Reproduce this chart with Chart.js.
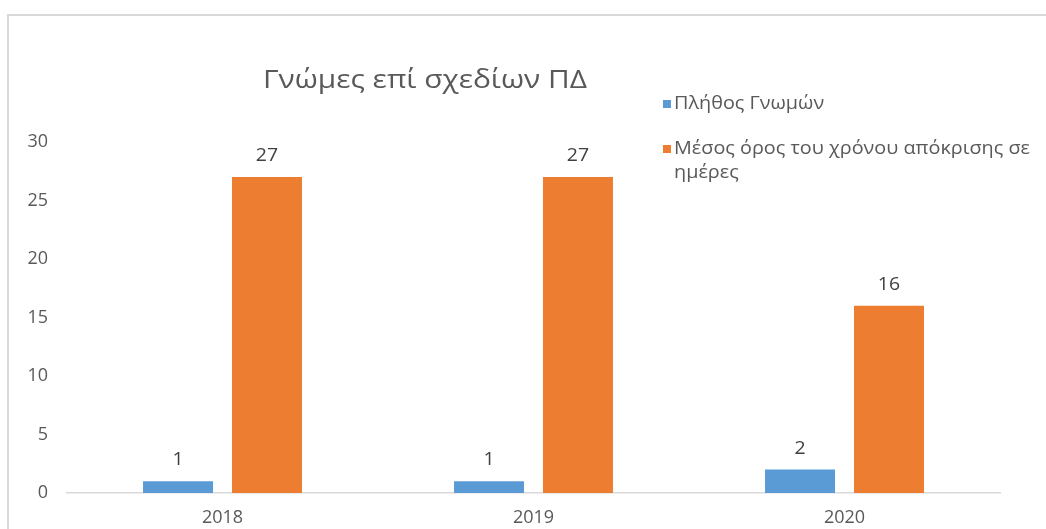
<!DOCTYPE html>
<html>
<head>
<meta charset="utf-8">
<script src="https://cdn.jsdelivr.net/npm/chart.js@4"></script>
<style>
html,body{margin:0;padding:0;background:#fff;}
#wrap{width:1046px;height:529px;position:relative;}
</style>
</head>
<body>
<div id="wrap"><canvas id="c" width="1046" height="529"></canvas></div>
<script>
const categories = ['2018', '2019', '2020'];
const opinionsCount = [1, 1, 2];
const avgResponseDays = [27, 27, 16];
const seriesNames = ['Πλήθος Γνωμών', 'Μέσος όρος του χρόνου απόκρισης σε ημέρες'];
const legendLines = [['Πλήθος Γνωμών'], ['Μέσος όρος του χρόνου απόκρισης σε', 'ημέρες']];
const chartTitle = 'Γνώμες επί σχεδίων ΠΔ';
const yTicks = [0, 5, 10, 15, 20, 25, 30];

const FONT = '"Open Sans", "Noto Sans", sans-serif';
const TEXT = '#595959';

// draw text horizontally stretched by sx, anchored at x (left or center)
function drawStretched(ctx, text, x, y, sx, align) {
  ctx.save();
  ctx.translate(x, y);
  ctx.scale(sx, 1);
  ctx.textAlign = align;
  ctx.fillText(text, 0, 0);
  ctx.restore();
}

const decor = {
  id: 'decor',
  beforeDraw(chart) {
    const ctx = chart.ctx;
    ctx.save();
    ctx.strokeStyle = '#d9d9d9';
    ctx.lineWidth = 2;
    ctx.beginPath();
    ctx.moveTo(8, 540);
    ctx.lineTo(8, 15);
    ctx.lineTo(1060, 15);
    ctx.stroke();
    ctx.restore();
  },
  afterDatasetsDraw(chart) {
    const ctx = chart.ctx;
    ctx.save();
    // data labels
    ctx.font = '18px ' + FONT;
    ctx.fillStyle = '#404040';
    ctx.textBaseline = 'middle';
    chart.data.datasets.forEach((ds, di) => {
      const meta = chart.getDatasetMeta(di);
      meta.data.forEach((bar, i) => {
        drawStretched(ctx, String(ds.data[i]), bar.x, bar.y - 21, 1.08, 'center');
      });
    });
    // title
    ctx.font = '26px ' + FONT;
    ctx.fillStyle = TEXT;
    ctx.textBaseline = 'alphabetic';
    const tw = ctx.measureText(chartTitle).width;
    drawStretched(ctx, chartTitle, 263, 88, 324 / tw, 'left');
    // legend
    ctx.font = '17.5px ' + FONT;
    ctx.textBaseline = 'middle';
    const lw = ctx.measureText(legendLines[1][0]).width;
    const lsx = 356 / lw;
    const ys = [104, 149];
    chart.data.datasets.forEach((ds, di) => {
      ctx.fillStyle = ds.backgroundColor;
      ctx.fillRect(663, ys[di] - 4, 8, 8);
      ctx.fillStyle = TEXT;
      legendLines[di].forEach((ln, li) => {
        drawStretched(ctx, ln, 674, ys[di] + li * 24, lsx, 'left');
      });
    });
    ctx.restore();
  }
};

new Chart(document.getElementById('c'), {
  type: 'bar',
  data: {
    labels: categories,
    datasets: [
      { label: seriesNames[0], data: opinionsCount, backgroundColor: '#5b9bd5',
        categoryPercentage: 0.572, barPercentage: 0.787 },
      { label: seriesNames[1], data: avgResponseDays, backgroundColor: '#ed7d31',
        categoryPercentage: 0.572, barPercentage: 0.787 }
    ]
  },
  options: {
    responsive: false,
    animation: false,
    devicePixelRatio: 1,
    layout: { padding: { top: 142, left: 8, right: 46, bottom: 0 } },
    plugins: {
      legend: { display: false },
      title: { display: false },
      tooltip: { enabled: false }
    },
    scales: {
      x: {
        grid: { display: false, drawTicks: false },
        border: { display: true, color: '#d9d9d9', width: 1.5 },
        ticks: { color: TEXT, font: { family: FONT, size: 18 }, padding: 14 },
        afterFit(scale) { scale.height = 36; }
      },
      y: {
        min: 0, max: 30,
        afterBuildTicks(scale) { scale.ticks = yTicks.map(v => ({ value: v })); },
        grid: { display: false, drawTicks: false },
        border: { display: false },
        ticks: { color: TEXT, font: { family: FONT, size: 18 }, padding: 19 },
        afterFit(scale) { scale.width = 59; }
      }
    }
  },
  plugins: [decor]
});
</script>
</body>
</html>
